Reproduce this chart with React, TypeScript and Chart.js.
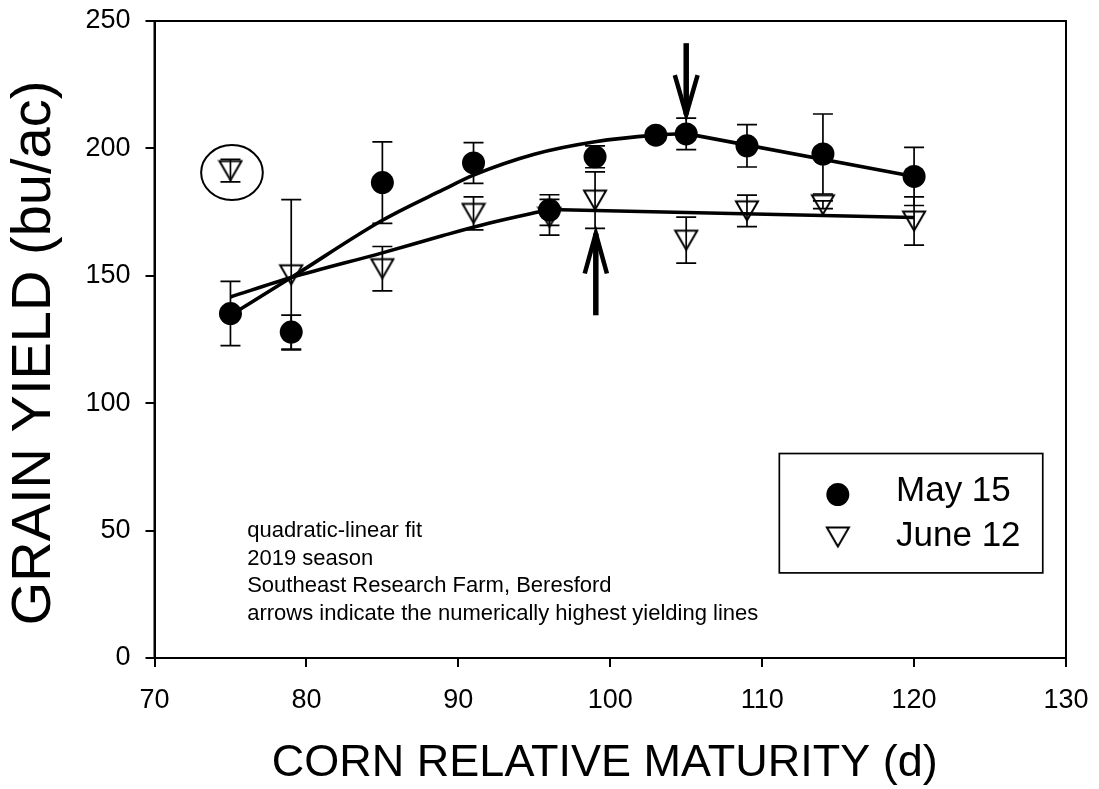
import React, { useEffect, useRef } from 'react';
import { Chart, registerables } from 'chart.js';

Chart.register(...registerables);

const FONT = '"Liberation Sans", Arial, Helvetica, sans-serif';

// Axis ticks
const xTicks = [70, 80, 90, 100, 110, 120, 130];
const yTicks = [0, 50, 100, 150, 200, 250];

// May 15 planting (filled circles): mean and standard error
const mayX = [75, 79, 85, 91, 96, 99, 103, 105, 109, 114, 120];
const mayY = [135.2, 127.9, 186.6, 194.3, 175.8, 196.7, 205.2, 205.7, 201.0, 197.8, 189.0];
const maySE = [12.6, 6.7, 16.0, 8.0, 6.0, 4.3, 2.0, 6.2, 8.3, 15.7, 11.4];

// June 12 planting (open triangles)
const juneX = [79, 85, 91, 96, 99, 105, 109, 114, 120];
const juneY = [150.4, 152.8, 174.5, 173.0, 179.7, 164.0, 175.5, 177.9, 171.5];
const juneSE = [29.5, 8.7, 6.5, 7.0, 11.1, 9.0, 6.2, 1.5, 9.5];

// June 12 outlier (circled, not in fit)
const juneOutX = [75];
const juneOutY = [191.3];
const juneOutSE = [4.4];

// Quadratic-linear fits
const mayCurveX = [75, 79, 85, 89, 91, 95, 99, 103, 105];
const mayCurveY = [134.5, 149.3, 171.8, 183.8, 189.5, 197.7, 202.6, 205.2, 205.8];
const mayLinearX = [105, 120];
const mayLinearY = [205.8, 189.0];
const juneCurveX = [75, 79, 85, 89, 92, 96];
const juneCurveY = [141.7, 149.3, 159.0, 165.8, 170.6, 176.0];
const juneLinearX = [96, 120];
const juneLinearY = [176.0, 172.9];

// Arrows (data units): x, tail y, tip y, wing y, wing half-width
const arrowX = [105, 99.05];
const arrowTail = [241.3, 134.5];
const arrowTip = [213.3, 166.6];
const arrowWingY = [228.8, 150.9];
const arrowWingDX = [0.75, 0.73];

// Ellipse around outlier (data units)
const ellipseCenter = [75.1, 190.5];
const ellipseRadius = [2.03, 10.8];

// Notes
const noteLines = [
  'quadratic-linear fit',
  '2019 season',
  'Southeast Research Farm, Beresford',
  'arrows indicate the numerically highest yielding lines',
];
const noteX = 76.1;
const noteY = [47.5, 36.6, 26.0, 15.1];

// Legend (data units)
const legendLabels = ['May 15', 'June 12'];
const legendBox = [111.13, 128.47, 80.25, 33.4]; // x1, x2, yTop, yBottom
const legendMarkerX = 114.98;
const legendMarkerY = [64.15, 47.5];
const legendTextX = 118.81;
const legendTextY = [65.3, 47.9];

const xTitle = 'CORN RELATIVE MATURITY (d)';
const yTitle = 'GRAIN YIELD (bu/ac)';

const toPts = (xs: number[], ys: number[]) => xs.map((x, i) => ({ x, y: ys[i] }));

export default function App() {
  const ref = useRef<HTMLCanvasElement>(null);

  useEffect(() => {
    const canvas = ref.current!;
    const tri = document.createElement('canvas');
    tri.width = 26;
    tri.height = 24;
    const tctx = tri.getContext('2d')!;
    tctx.lineWidth = 2;
    tctx.strokeStyle = '#000';
    tctx.lineJoin = 'miter';
    tctx.beginPath();
    tctx.moveTo(2, 2.5);
    tctx.lineTo(24, 2.5);
    tctx.lineTo(13, 21.5);
    tctx.closePath();
    tctx.stroke();

    const errorBars = {
      id: 'errorBars',
      beforeDatasetsDraw(chart: any) {
        const { ctx, scales } = chart;
        const x = scales.x, y = scales.y;
        ctx.save();
        ctx.strokeStyle = '#000';
        ctx.lineWidth = 1.7;
        chart.data.datasets.forEach((ds: any) => {
          if (!ds.errors) return;
          ds.data.forEach((p: any, i: number) => {
            const e = ds.errors[i];
            const px = x.getPixelForValue(p.x);
            const t = y.getPixelForValue(p.y + e);
            const b = y.getPixelForValue(p.y - e);
            ctx.beginPath();
            ctx.moveTo(px, t);
            ctx.lineTo(px, b);
            ctx.moveTo(px - 10, t);
            ctx.lineTo(px + 10, t);
            ctx.moveTo(px - 10, b);
            ctx.lineTo(px + 10, b);
            ctx.stroke();
          });
        });
        ctx.restore();
      },
    };

    const decorations = {
      id: 'decorations',
      afterDraw(chart: any) {
        const { ctx, chartArea, scales } = chart;
        const x = scales.x, y = scales.y;
        ctx.save();
        // frame
        ctx.strokeStyle = '#000';
        ctx.lineWidth = 2;
        ctx.strokeRect(chartArea.left, chartArea.top, chartArea.right - chartArea.left, chartArea.bottom - chartArea.top);

        // ellipse
        const cx = x.getPixelForValue(ellipseCenter[0]);
        const cy = y.getPixelForValue(ellipseCenter[1]);
        const rx = Math.abs(x.getPixelForValue(ellipseCenter[0] + ellipseRadius[0]) - cx);
        const ry = Math.abs(y.getPixelForValue(ellipseCenter[1] + ellipseRadius[1]) - cy);
        ctx.lineWidth = 2;
        ctx.beginPath();
        ctx.ellipse(cx, cy, rx, ry, 0, 0, Math.PI * 2);
        ctx.stroke();

        // arrows
        arrowX.forEach((ax, i) => {
          const px = x.getPixelForValue(ax);
          const tail = y.getPixelForValue(arrowTail[i]);
          const tip = y.getPixelForValue(arrowTip[i]);
          const wy = y.getPixelForValue(arrowWingY[i]);
          const wl = x.getPixelForValue(ax - arrowWingDX[i]);
          const wr = x.getPixelForValue(ax + arrowWingDX[i]);
          ctx.lineCap = 'butt';
          ctx.lineJoin = 'miter';
          ctx.lineWidth = 5.5;
          ctx.beginPath();
          ctx.moveTo(px, tail);
          ctx.lineTo(px, tip);
          ctx.stroke();
          ctx.lineWidth = 4.5;
          ctx.beginPath();
          ctx.moveTo(wl, wy);
          ctx.lineTo(px, tip);
          ctx.lineTo(wr, wy);
          ctx.stroke();
        });

        // notes
        ctx.fillStyle = '#000';
        ctx.font = `22px ${FONT}`;
        ctx.textAlign = 'left';
        ctx.textBaseline = 'alphabetic';
        noteLines.forEach((t, i) => {
          ctx.fillText(t, x.getPixelForValue(noteX), y.getPixelForValue(noteY[i]));
        });

        // legend
        const bx1 = x.getPixelForValue(legendBox[0]);
        const bx2 = x.getPixelForValue(legendBox[1]);
        const by1 = y.getPixelForValue(legendBox[2]);
        const by2 = y.getPixelForValue(legendBox[3]);
        ctx.lineWidth = 1.7;
        ctx.strokeRect(bx1, by1, bx2 - bx1, by2 - by1);
        const mx = x.getPixelForValue(legendMarkerX);
        ctx.beginPath();
        ctx.arc(mx, y.getPixelForValue(legendMarkerY[0]), 11.5, 0, Math.PI * 2);
        ctx.fill();
        const ty = y.getPixelForValue(legendMarkerY[1]);
        ctx.drawImage(tri, mx - tri.width / 2, ty - tri.height / 2);
        ctx.font = `35px ${FONT}`;
        ctx.textBaseline = 'middle';
        legendLabels.forEach((l, i) => {
          ctx.fillText(l, x.getPixelForValue(legendTextX), y.getPixelForValue(legendTextY[i]));
        });

        // axis titles
        ctx.textAlign = 'center';
        ctx.textBaseline = 'middle';
        ctx.font = `45px ${FONT}`;
        ctx.fillText(xTitle, x.getPixelForValue(99.64), chartArea.bottom + 106);
        ctx.save();
        ctx.translate(35, y.getPixelForValue(119.7));
        ctx.rotate(-Math.PI / 2);
        ctx.font = `56px ${FONT}`;
        ctx.fillText(yTitle, 0, 0);
        ctx.restore();

        ctx.restore();
      },
    };

    const lineDs = (xs: number[], ys: number[], curve: boolean) => ({
      data: toPts(xs, ys),
      showLine: true,
      borderColor: '#000',
      borderWidth: 3.6,
      pointRadius: 0,
      pointHoverRadius: 0,
      fill: false,
      cubicInterpolationMode: curve ? 'monotone' : 'default',
      tension: 0,
    });

    const zeroPad = (s: any) => {
      s.paddingTop = 0;
      s.paddingBottom = 0;
      s.paddingLeft = 0;
      s.paddingRight = 0;
    };

    const chart = new Chart(canvas, {
      type: 'scatter',
      data: {
        datasets: [
          {
            label: 'May 15',
            data: toPts(mayX, mayY),
            errors: maySE,
            pointStyle: 'circle',
            pointRadius: 11.5,
            pointHoverRadius: 11.5,
            backgroundColor: '#000',
            borderWidth: 0,
          } as any,
          {
            label: 'June 12',
            data: toPts(juneX, juneY),
            errors: juneSE,
            pointStyle: tri,
            pointRadius: 11,
          } as any,
          {
            label: 'June 12 outlier',
            data: toPts(juneOutX, juneOutY),
            errors: juneOutSE,
            pointStyle: tri,
            pointRadius: 11,
          } as any,
          lineDs(mayCurveX, mayCurveY, true) as any,
          lineDs(mayLinearX, mayLinearY, false) as any,
          lineDs(juneCurveX, juneCurveY, true) as any,
          lineDs(juneLinearX, juneLinearY, false) as any,
        ],
      },
      options: {
        responsive: false,
        animation: false,
        devicePixelRatio: 1,
        layout: { padding: { top: 21, right: 33, left: 0, bottom: 0 } },
        plugins: { legend: { display: false }, tooltip: { enabled: false } },
        events: [],
        scales: {
          x: {
            type: 'linear',
            min: 70,
            max: 130,
            afterBuildTicks: (s: any) => { s.ticks = xTicks.map((v) => ({ value: v })); },
            afterFit: (s: any) => { s.height = 131; zeroPad(s); },
            ticks: { color: '#000', font: { family: FONT, size: 27 }, padding: 17 },
            grid: { drawOnChartArea: false, drawTicks: true, tickLength: 9, color: '#000', lineWidth: 2 },
            border: { display: true, color: '#000', width: 2 },
          },
          y: {
            type: 'linear',
            min: 0,
            max: 250,
            afterBuildTicks: (s: any) => { s.ticks = yTicks.map((v) => ({ value: v })); },
            afterFit: (s: any) => { s.width = 154.5; zeroPad(s); },
            ticks: { color: '#000', font: { family: FONT, size: 27 }, padding: 15 },
            grid: { drawOnChartArea: false, drawTicks: true, tickLength: 9, color: '#000', lineWidth: 2 },
            border: { display: true, color: '#000', width: 2 },
          },
        },
      } as any,
      plugins: [errorBars, decorations],
    });
    return () => chart.destroy();
  }, []);

  return (
    <div style={{ position: 'absolute', left: 0, top: 0, width: 1099, height: 789, background: '#fff' }}>
      <canvas ref={ref} width={1099} height={789} style={{ display: 'block', width: 1099, height: 789 }} />
    </div>
  );
}
